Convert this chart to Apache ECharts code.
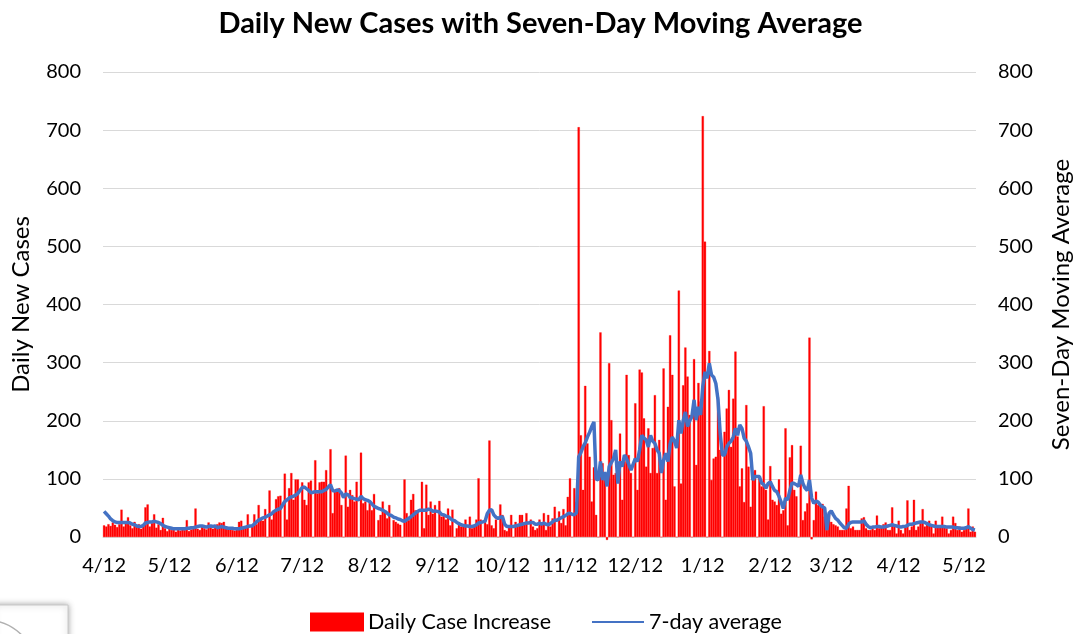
<!DOCTYPE html>
<html>
<head>
<meta charset="utf-8">
<title>Daily New Cases</title>
<script src="https://cdn.jsdelivr.net/npm/echarts@6/dist/echarts.min.js"></script>
<style>
  html, body { margin: 0; padding: 0; background: #fff; }
  #chart { width: 1081px; height: 634px; }
</style>
</head>
<body>
<div id="chart"></div>
<script>
// first day of the series, one value per day after it
const startDate = '2020-04-12'
const tickDay = '12' // a label on the 12th of each month

// daily case increase
const daily = [
  20, 18, 22, 19, 25, 21, 17, 22, 47, 18,
  24, 34, 20, 15, 26, 18, 22, 14, 20, 51,
  56, 18, 24, 39, 16, 22, 12, 33, 15, 10,
  14, 12, 16, 9, 14, 11, 15, 12, 29, 10,
  13, 16, 49, 14, 12, 18, 15, 13, 25, 17,
  14, 18, 22, 25, 24, 26, 18, 16, 14, 12,
  11, 13, 26, 28, 14, 16, 39, 0, 20, 39,
  22, 55, 30, 28, 48, 0, 80, 30, 45, 65,
  70, 71, 0, 109, 30, 84, 110, 64, 99, 99,
  0, 94, 64, 55, 94, 97, 0, 132, 75, 94,
  95, 95, 115, 0, 151, 41, 78, 81, 84, 55,
  0, 140, 52, 81, 72, 61, 95, 0, 145, 58,
  61, 46, 61, 46, 74, 0, 29, 38, 61, 44,
  32, 55, 0, 29, 26, 23, 21, 0, 99, 41,
  29, 64, 74, 46, 46, 0, 95, 15, 90, 38,
  61, 40, 55, 0, 62, 35, 38, 30, 49, 20,
  47, 0, 15, 22, 18, 18, 30, 0, 35, 15,
  18, 30, 101, 30, 0, 28, 22, 166, 20, 15,
  30, 0, 56, 38, 12, 10, 20, 38, 0, 26,
  22, 38, 38, 24, 41, 0, 30, 18, 12, 15,
  30, 25, 41, 12, 38, 18, 32, 52, 0, 44,
  24, 48, 20, 69, 101, 0, 84, 60, 705, 175,
  81, 260, 161, 138, 61, 120, 38, 0, 352, 127,
  100, -5, 299, 201, 107, 110, 0, 178, 64, 130,
  279, 141, 110, 0, 230, 81, 288, 283, 204, 121,
  187, 110, 153, 244, 110, 167, 0, 290, 64, 224,
  347, 279, 87, 0, 424, 92, 261, 326, 276, 210,
  0, 306, 124, 265, 233, 724, 508, 0, 320, 98,
  135, 138, 241, 150, 0, 181, 221, 253, 155, 238,
  319, 173, 87, 118, 60, 227, 121, 52, 112, 115,
  0, 104, 87, 225, 81, 30, 122, 64, 61, 55,
  99, 40, 46, 187, 20, 137, 158, 81, 70, 0,
  157, 29, 44, 58, 343, -4, 29, 78, 55, 57,
  57, 35, 12, 41, 26, 22, 20, 18, 12, 12,
  12, 49, 88, 15, 18, 12, 12, 12, 32, 34,
  15, 12, 12, 15, 12, 37, 15, 18, 22, 25,
  12, 12, 51, 18, 6, 28, 12, 6, 20, 63,
  12, 18, 64, 12, 18, 24, 48, 18, 24, 28,
  18, 6, 28, 20, 18, 35, 18, 15, 6, 12,
  35, 24, 12, 18, 9, 12, 18, 49, 9, 18,
  9
]

// 7-day average line
const avg7 = [
  44, 40, 36, 31, 28, 26, 25, 25, 25, 25,
  25, 25, 24, 22, 21, 19, 18, 18, 20, 24,
  25, 26, 26, 27, 26, 25, 23, 20, 18, 17,
  16, 15, 14, 14, 14, 14, 14, 14, 15, 15,
  16, 16, 17, 18, 19, 19, 18, 17, 18, 19,
  18, 19, 16, 17, 18, 17, 16, 15, 15, 15,
  14, 14, 14, 15, 16, 17, 18, 19, 19, 22,
  26, 29, 31, 33, 34, 36, 38, 40, 44, 46,
  48, 49, 55, 61, 64, 67, 69, 70, 72, 75,
  80, 85, 86, 83, 80, 76, 77, 78, 78, 78,
  78, 80, 82, 86, 90, 80, 79, 81, 80, 76,
  68, 74, 73, 68, 67, 66, 65, 64, 70, 66,
  64, 63, 61, 57, 53, 51, 49, 48, 46, 44,
  41, 38, 37, 34, 33, 31, 30, 28, 27, 30,
  32, 35, 38, 41, 44, 46, 46, 46, 46, 48,
  47, 44, 45, 44, 43, 39, 38, 36, 35, 32,
  29, 28, 25, 23, 21, 20, 19, 19, 18, 18,
  19, 21, 24, 25, 26, 27, 40, 46, 47, 38,
  34, 32, 34, 35, 22, 18, 18, 18, 18, 19,
  20, 21, 22, 23, 24, 24, 25, 25, 22, 22,
  24, 22, 24, 22, 21, 23, 26, 29, 29, 31,
  33, 35, 37, 40, 41, 39, 38, 42, 138, 145,
  155, 162, 172, 180, 190, 198, 100, 98, 130, 98,
  112, 87, 121, 128, 135, 150, 92, 130, 121, 141,
  135, 125, 115, 125, 135, 130, 150, 175, 170, 167,
  155, 175, 165, 161, 150, 144, 110, 132, 144, 130,
  160, 172, 165, 153, 201, 178, 200, 215, 190, 200,
  207, 236, 201, 224, 210, 259, 284, 273, 299, 279,
  275, 264, 236, 178, 141, 141, 155, 161, 165, 172,
  187, 175, 193, 187, 170, 165, 155, 144, 98, 104,
  104, 104, 93, 90, 84, 92, 95, 87, 80, 78,
  70, 60, 49, 67, 64, 80, 93, 92, 90, 87,
  107, 92, 84, 80, 98, 67, 58, 62, 60, 55,
  52, 50, 12, 41, 45, 38, 32, 29, 24, 20,
  16, 15, 22, 25, 26, 26, 26, 26, 26, 28,
  22, 18, 16, 17, 17, 18, 18, 17, 17, 18,
  19, 20, 21, 20, 19, 18, 17, 18, 18, 20,
  22, 22, 23, 24, 25, 26, 26, 25, 23, 21,
  20, 19, 18, 18, 18, 18, 18, 17, 17, 17,
  17, 16, 16, 15, 15, 15, 16, 18, 15, 13,
  12
]

// one category per day
let days = []
let t0 = new Date(startDate + 'T00:00:00Z').getTime()
for (let i = 0; i < daily.length; i++) {
  days.push(new Date(t0 + i * 86400000).toISOString().slice(0, 10))
}

const isTick = (idx, val) => val.slice(8) === tickDay
const font = 'Lato, "Liberation Sans", sans-serif'

let myChart = echarts.init(document.getElementById('chart'))

let option = {
  backgroundColor: '#fff',
  animation: false,
  textStyle: { fontFamily: font, color: '#000' },
  title: {
    text: 'Daily New Cases with Seven-Day Moving Average',
    left: 'center',
    top: 4,
    textStyle: { fontSize: 29, fontWeight: 'bold', color: '#000', fontFamily: font }
  },
  legend: {
    top: 606,
    left: 305,
    itemWidth: 52,
    itemHeight: 17,
    itemGap: 40,
    textStyle: { fontSize: 21.5, color: '#000', fontFamily: font },
    data: [
      { name: 'Daily Case Increase', icon: 'rect' },
      { name: '7-day average', itemStyle: { opacity: 0 } }
    ]
  },
  grid: { left: 103, right: 99, top: 72, bottom: 97 },
  xAxis: {
    type: 'category',
    data: days,
    boundaryGap: true,
    axisLine: { lineStyle: { color: '#d9d9d9' } },
    axisTick: { interval: isTick, alignWithLabel: true, length: 5, lineStyle: { color: '#bfbfbf' } },
    axisLabel: {
      interval: isTick,
      formatter: v => (+v.slice(5, 7)) + '/' + tickDay,
      fontSize: 20,
      color: '#000',
      margin: 19,
      fontFamily: font
    }
  },
  yAxis: [
    {
      type: 'value',
      min: 0,
      max: 800,
      interval: 100,
      name: 'Daily New Cases',
      nameLocation: 'middle',
      nameGap: 70,
      nameTextStyle: { fontSize: 24, color: '#000', fontFamily: font },
      axisLabel: { fontSize: 20, color: '#000', margin: 22, fontFamily: font },
      splitLine: { lineStyle: { color: '#d9d9d9' } },
      axisLine: { show: false },
      axisTick: { show: false }
    },
    {
      type: 'value',
      min: 0,
      max: 800,
      interval: 100,
      position: 'right',
      name: 'Seven-Day Moving Average',
      nameLocation: 'middle',
      nameGap: 73,
      nameTextStyle: { fontSize: 24, color: '#000', fontFamily: font },
      axisLabel: { fontSize: 20, color: '#000', margin: 22, fontFamily: font },
      splitLine: { show: false },
      axisLine: { show: false },
      axisTick: { show: false }
    }
  ],
  series: [
    {
      name: 'Daily Case Increase',
      type: 'bar',
      data: daily,
      barCategoryGap: '0%',
      clip: false,
      itemStyle: { color: '#ff0000', borderColor: '#ff0000', borderWidth: 0.3 }
    },
    {
      name: '7-day average',
      type: 'line',
      yAxisIndex: 1,
      data: avg7,
      symbol: 'none',
      lineStyle: { color: '#4472c4', width: 3.5 },
      itemStyle: { color: '#4472c4' }
    }
  ],
  graphic: [
    {
      type: 'rect',
      shape: { x: -6, y: 605, width: 74, height: 40 },
      style: { fill: '#fff', stroke: '#c8c8c8', lineWidth: 1, shadowBlur: 6, shadowColor: 'rgba(0,0,0,0.35)' }
    },
    {
      type: 'arc',
      shape: { cx: -14, cy: 670, r: 50, startAngle: -Math.PI / 2.2, endAngle: -Math.PI / 8 },
      style: { stroke: '#b0b0b0', lineWidth: 1.5, fill: null }
    }
  ]
}

myChart.setOption(option)
</script>
</body>
</html>
